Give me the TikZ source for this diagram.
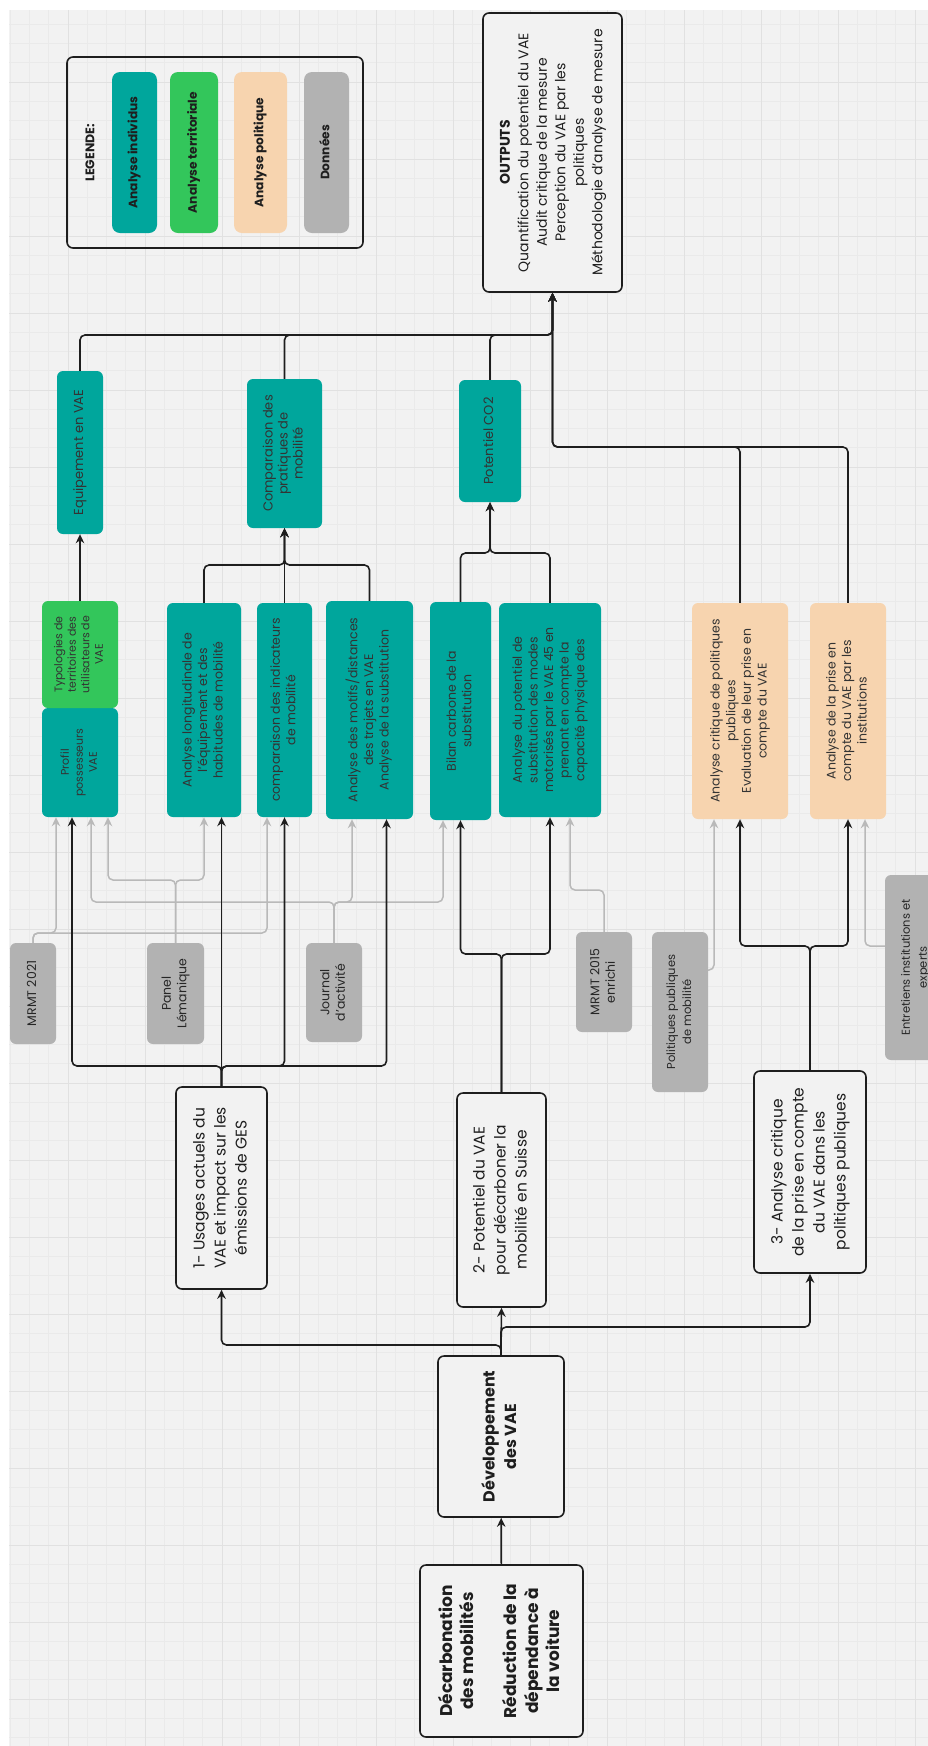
\documentclass[tikz,border=0pt]{standalone}
\usepackage{fontspec}
\setmainfont{Poppins}
\usepackage{graphicx}
\usetikzlibrary{arrows.meta, positioning, calc}
\definecolor{bgpaper}{HTML}{F2F2F2}
\definecolor{gridmin}{HTML}{EAEAEA}
\definecolor{gridmaj}{HTML}{E1E1E1}
\definecolor{tealind}{HTML}{00A69C}
\definecolor{greenter}{HTML}{33C65B}
\definecolor{peachpol}{HTML}{F7D4AF}
\definecolor{greydat}{HTML}{B2B2B2}
\definecolor{greyline}{HTML}{B9B9B9}
\definecolor{ink}{HTML}{1E1E1E}
\newcommand{\vtext}[1]{\rotatebox{90}{\begin{tabular}{@{}c@{}}#1\end{tabular}}}

\begin{document}
\begin{tikzpicture}[
    x=1pt, y=-1pt,
    >={Stealth[length=9pt,width=8.5pt]},
    dims/.style 2 args={minimum width=#1pt, minimum height=#2pt},
    base/.style={align=center, inner sep=0pt, rounded corners=6pt, text=ink},
    frame/.style={base, draw=ink, line width=1.6pt, fill=bgpaper},
    goalbox/.style={frame, font=\fontsize{17}{21.5}\selectfont\bfseries},
    axisbox/.style={frame, font=\fontsize{15.5}{21}\selectfont},
    indiv/.style={base, fill=tealind, text=black!80, font=\fontsize{12.5}{15.6}\selectfont},
    terri/.style={base, fill=greenter, text=black!80, font=\fontsize{11}{13.5}\selectfont},
    poli/.style={base, fill=peachpol, text=black!80, font=\fontsize{12.5}{15.6}\selectfont},
    data/.style={base, fill=greydat, text=black!85, font=\fontsize{12.5}{15.5}\selectfont},
    pill/.style={base, rounded corners=8pt, font=\fontsize{12.2}{14}\selectfont\bfseries},
    arrow/.style={->, line width=1.6pt, draw=ink, rounded corners=5pt},
    feed/.style={->, line width=1.5pt, draw=greyline, rounded corners=5pt}
  ]
    % paper and grid
    \useasboundingbox (0,0) rectangle (928,1746);
    \fill[white] (0,0) rectangle (928,1746);
    \fill[bgpaper] (9,10) rectangle (928,1746);
    \foreach \i in {0,...,47}
      \draw[gridmin, line width=0.6pt] ({10.25+19.25*\i},10) -- ({10.25+19.25*\i},1746);
    \foreach \j in {1,...,90}
      \draw[gridmin, line width=0.6pt] (9,{5+19.25*\j}) -- (928,{5+19.25*\j});
    \foreach \i in {0,...,11}
      \draw[gridmaj, line width=0.8pt] ({68+77*\i},10) -- ({68+77*\i},1746);
    \foreach \j in {0,...,21}
      \draw[gridmaj, line width=0.8pt] (9,{82+77*\j}) -- (928,{82+77*\j});

    % legend
    \node[frame, fill=none, dims={296}{191}] (leg) at (215,152.5) {};
    \node[font=\fontsize{12.5}{15}\selectfont\bfseries, text=ink] (legt) at (90,153) {\rotatebox{90}{LEGENDE:}};
    \node[pill, fill=tealind, dims={45}{161}] (l1) at (134.5,152.5) {\vtext{Analyse individus}};
    \node[pill, fill=greenter, dims={48}{161}] (l2) at (194,152.5) {\vtext{Analyse territoriale}};
    \node[pill, fill=peachpol, dims={53}{161}] (l3) at (260.5,152.5) {\vtext{Analyse politique}};
    \node[pill, fill=greydat, dims={45}{161}] (l4) at (326.5,152.5) {\vtext{Données}};

    % goal, development and the three axes
    \node[goalbox, dims={163}{172}] (goal) at (501.5,1651)
      {\vtext{Décarbonation\\des mobilités\\ \\Réduction de la\\dépendance à\\la voiture}};
    \node[goalbox, font=\fontsize{16}{21.5}\selectfont\bfseries, dims={126}{161}] (dev) at (501,1436.5)
      {\vtext{Développement\\des VAE}};
    \node[axisbox, dims={91}{202}] (ax1) at (221.5,1188)
      {\vtext{1- Usages actuels du\\VAE et impact sur les\\émissions de GES}};
    \node[axisbox, dims={89}{214}] (ax2) at (501.5,1200)
      {\vtext{2- Potentiel du VAE\\pour décarboner la\\mobilité en Suisse}};
    \node[axisbox, dims={112}{202}] (ax3) at (810,1172)
      {\vtext{3- Analyse critique\\de la prise en compte\\du VAE dans les\\politiques publiques}};

    % data sources
    \node[data, dims={46}{101}] (d1) at (33,993.5) {\vtext{MRMT 2021}};
    \node[data, dims={57}{101}] (d2) at (175.5,993.5) {\vtext{Panel\\Lémanique}};
    \node[data, dims={56}{99}] (d3) at (334,992.5) {\vtext{Journal\\d'activité}};
    \node[data, dims={56}{100}] (d4) at (604,982) {\vtext{MRMT 2015\\enrichi}};
    \node[data, font=\fontsize{11.5}{16}\selectfont, dims={56}{160}] (d5) at (680,1012) {\vtext{Politiques publiques\\de mobilité}};
    \node[data, font=\fontsize{11.5}{17}\selectfont, dims={60}{185}] (d6) at (915,967.5) {\vtext{Entretiens institutions et\\experts}};

    % analyses
    \node[indiv, font=\fontsize{11}{14}\selectfont, dims={76}{109}] (prof) at (80,762.5) {\vtext{Profil\\possesseurs\\VAE}};
    \node[terri, dims={76}{107}] (typo) at (80,654.5) {\vtext{Typologies de\\territoires des\\utilisateurs de\\VAE}};
    \node[indiv, dims={74}{214}] (lon) at (204,710) {\vtext{Analyse longitudinale de\\l'équipement et des\\habitudes de mobilité}};
    \node[indiv, dims={55}{214}] (ind) at (284.5,710) {\vtext{comparaison des indicateurs\\de mobilité}};
    \node[indiv, dims={87}{218}] (mot) at (369.5,710) {\vtext{Analyse des motifs/distances\\des trajets en VAE\\Analyse de la substitution}};
    \node[indiv, dims={61}{218}] (bil) at (460.5,711) {\vtext{Bilan carbone de la\\substitution}};
    \node[indiv, dims={102}{214}] (sub) at (550,710) {\vtext{Analyse du potentiel de\\substitution des modes\\motorisés par le VAE 45 en\\prenant en compte la\\capacité physique des}};
    \node[poli, dims={96}{216}] (pcr) at (740,711) {\vtext{Analyse critique de politiques\\publiques\\Evaluation de leur prise en\\compte du VAE}};
    \node[poli, dims={76}{216}] (pin) at (848,711) {\vtext{Analyse de la prise en\\compte du VAE par les\\institutions}};

    % results
    \node[indiv, font=\fontsize{13}{15}\selectfont, dims={46}{163}] (equ) at (80,452.5) {\vtext{Equipement en VAE}};
    \node[indiv, font=\fontsize{13}{15}\selectfont, dims={75}{149}] (cmp) at (284.5,453.5) {\vtext{Comparaison des\\pratiques de\\mobilité}};
    \node[indiv, font=\fontsize{13}{15}\selectfont, dims={62}{122}] (co2) at (490,441) {\vtext{Potentiel CO2}};
    \node[frame, font=\fontsize{14}{18.5}\selectfont, dims={139}{279}] (out) at (552.5,152.5)
      {\vtext{\textbf{OUTPUTS}\\Quantification du potentiel du VAE\\Audit critique de la mesure\\Perception du VAE par les\\politiques\\Méthodologie d'analyse de mesure}};

    % bus heights
    \coordinate (bOut) at (0,335);
    \coordinate (bPol) at (0,447);
    \coordinate (bCo) at (0,553);
    \coordinate (bCmp) at (0,565);
    \coordinate (bA1) at (0,1066);
    \coordinate (bA2) at (0,954);
    \coordinate (bA3) at (0,946);
    \coordinate (bDl) at (0,1345);
    \coordinate (bDr) at (0,1327);
    \coordinate (gA) at (0,933);
    \coordinate (gB) at (0,880);
    \coordinate (gC) at (0,902);
    \coordinate (gD) at (0,890);

    % data feeds
    \draw[feed] (d1.north) -- (d1.north |- gA) -| ([xshift=-24pt]prof.south);
    \draw[feed] (d1.north) -- (d1.north |- gA) -| ([xshift=-17.5pt]ind.south);
    \draw[feed] (d2.north) -- (d2.north |- gB) -| ([xshift=28pt]prof.south);
    \draw[feed] (d2.north) -- (d2.north |- gB) -| (lon.south);
    \draw[feed] (d3.north) -- (d3.north |- gC) -| ([xshift=11pt]prof.south);
    \draw[feed] (d3.north) -- (d3.north |- gC) -| ([xshift=-17.5pt]mot.south);
    \draw[feed] (d3.north) -- (d3.north |- gC) -| ([xshift=-17.5pt]bil.south);
    \draw[feed] (d4.north) -- (d4.north |- gD) -| ([xshift=20pt]sub.south);
    \draw[feed] ([yshift=42pt]d5.east) -| ([xshift=-26pt]pcr.south);
    \draw[feed] ([yshift=21.5pt]d6.west) -| ([xshift=17pt]pin.south);

    % main flow
    \draw[arrow] (goal) -- (dev);
    \draw[arrow] (dev.north) -- (dev.north |- bDl) -| (ax1.south);
    \draw[arrow] (dev.north) -- (ax2.south);
    \draw[arrow] (dev.north) -- (dev.north |- bDr) -| (ax3.south);
    \draw[arrow] (ax1.north) -- (ax1.north |- bA1) -| ([xshift=-8pt]prof.south);
    \draw[arrow] (ax1.north) -- (ax1.north |- lon.south);
    \draw[arrow] (ax1.north) -- (ax1.north |- bA1) -| (ind.south);
    \draw[arrow] (ax1.north) -- (ax1.north |- bA1) -| ([xshift=17pt]mot.south);
    \draw[arrow] (ax2.north) -- (ax2.north |- bA2) -| (bil.south);
    \draw[arrow] (ax2.north) -- (ax2.north |- bA2) -| (sub.south);
    \draw[arrow] (ax3.north) -- (ax3.north |- bA3) -| (pcr.south);
    \draw[arrow] (ax3.north) -- (ax3.north |- bA3) -| (pin.south);
    \draw[arrow] (typo) -- (equ);
    \draw[arrow] (lon.north) -- (lon.north |- bCmp) -| (cmp.south);
    \draw[arrow] (ind.north) -- (cmp.south);
    \draw[arrow] (mot.north) -- (mot.north |- bCmp) -| (cmp.south);
    \draw[arrow] (bil.north) -- (bil.north |- bCo) -| (co2.south);
    \draw[arrow] (sub.north) -- (sub.north |- bCo) -| (co2.south);
    \draw[arrow] (equ.north) -- (equ.north |- bOut) -| (out.south);
    \draw[arrow] (cmp.north) -- (cmp.north |- bOut) -| (out.south);
    \draw[arrow] (co2.north) -- (co2.north |- bOut) -| (out.south);
    \draw[arrow] (pcr.north) -- (pcr.north |- bPol) -| (out.south);
    \draw[arrow] (pin.north) -- (pin.north |- bPol) -| (out.south);
  \end{tikzpicture}
\end{document}
